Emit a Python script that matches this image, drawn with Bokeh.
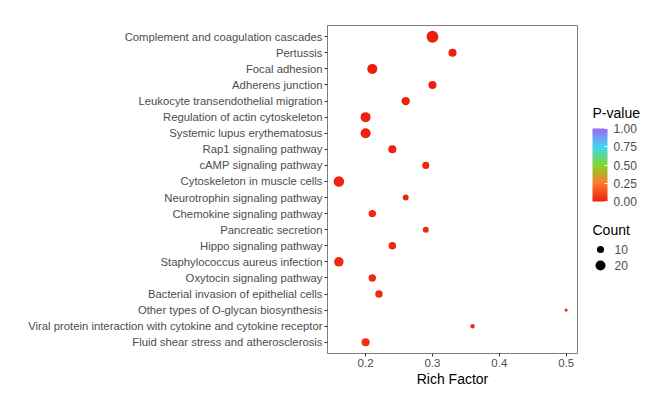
import numpy as np
from bokeh.plotting import figure
from bokeh.models import (FactorRange, Range1d, ColorBar, LinearColorMapper,
                          FixedTicker, PrintfTickFormatter, ColumnDataSource, Label)
from bokeh.layouts import row
from bokeh.core.properties import value
from bokeh.embed import file_html
from bokeh.resources import INLINE

# ---------------- data (top to bottom as displayed) ----------------
pathways = [
    "Complement and coagulation cascades",
    "Pertussis",
    "Focal adhesion",
    "Adherens junction",
    "Leukocyte transendothelial migration",
    "Regulation of actin cytoskeleton",
    "Systemic lupus erythematosus",
    "Rap1 signaling pathway",
    "cAMP signaling pathway",
    "Cytoskeleton in muscle cells",
    "Neurotrophin signaling pathway",
    "Chemokine signaling pathway",
    "Pancreatic secretion",
    "Hippo signaling pathway",
    "Staphylococcus aureus infection",
    "Oxytocin signaling pathway",
    "Bacterial invasion of epithelial cells",
    "Other types of O-glycan biosynthesis",
    "Viral protein interaction with cytokine and cytokine receptor",
    "Fluid shear stress and atherosclerosis",
]
rich_factor = [0.30, 0.33, 0.21, 0.30, 0.26, 0.20, 0.20, 0.24, 0.29, 0.16,
               0.26, 0.21, 0.29, 0.24, 0.16, 0.21, 0.22, 0.50, 0.36, 0.20]
counts = [28, 13, 20, 13, 14, 20, 20, 13, 10, 22,
          7, 11, 7, 11, 18, 11, 11, 2, 4, 13]
pvalues = [0.001, 0.004, 0.003, 0.006, 0.008, 0.010, 0.011, 0.014, 0.018, 0.020,
           0.022, 0.025, 0.027, 0.030, 0.031, 0.034, 0.036, 0.038, 0.040, 0.045]
legend_counts = [10, 20]
pvalue_ticks = [0.0, 0.25, 0.5, 0.75, 1.0]
x_ticks = [0.2, 0.3, 0.4, 0.5]

# ---------------- styles / layout ----------------
FONT = "Liberation Sans"
GREY30 = "#4D4D4D"
SIZE_K = 2.24  # marker diameter per sqrt(count)

H = 390
TOP, BOTTOM = 25, 37           # frame from y=25 to y=353
W_MAIN, W_LEG = 578, 72
FRAME_BOTTOM_Y = H - BOTTOM    # 353 in page pixels
LEG_X0 = W_MAIN                # page x where legend figure starts

stops = [(0.0, (238, 29, 12)), (0.25, (255, 122, 46)), (0.5, (127, 216, 42)),
         (0.75, (62, 215, 245)), (1.0, (158, 104, 245))]


def build_palette(n=256):
    pal = []
    for i in range(n):
        t = i / (n - 1)
        for (t0, c0), (t1, c1) in zip(stops[:-1], stops[1:]):
            if t0 <= t <= t1:
                f = (t - t0) / (t1 - t0)
                c = [round(a + (b - a) * f) for a, b in zip(c0, c1)]
                pal.append("#%02x%02x%02x" % tuple(c))
                break
    return pal


mapper = LinearColorMapper(palette=build_palette(), low=0, high=1)

src = ColumnDataSource(dict(
    pathway=pathways, rf=rich_factor, count=counts, p=pvalues,
    size=[SIZE_K * np.sqrt(c) for c in counts],
))

lo, hi = min(rich_factor), max(rich_factor)
pad = 0.05 * (hi - lo)

p = figure(width=W_MAIN, height=H,
           y_range=FactorRange(factors=pathways[::-1], range_padding=0.2,
                               range_padding_units="absolute"),
           x_range=Range1d(lo - pad, hi + pad),
           output_backend="svg", toolbar_location=None,
           min_border_left=327, min_border_right=1,
           min_border_top=TOP, min_border_bottom=BOTTOM)

p.scatter(x="rf", y="pathway", size="size", source=src,
          fill_color={"field": "p", "transform": mapper}, line_color=None)

p.xgrid.visible = False
p.ygrid.visible = False
p.outline_line_color = "#7F7F7F"
p.outline_line_width = 1
p.background_fill_color = "white"
p.border_fill_color = "white"

for ax in (p.xaxis, p.yaxis):
    ax.axis_line_color = None
    ax.major_tick_out = 3
    ax.major_tick_in = 0
    ax.major_tick_line_color = "#333333"
    ax.minor_tick_line_color = None
    ax.major_label_text_font = FONT
    ax.major_label_text_color = GREY30
    ax.major_label_standoff = 2

p.yaxis.major_label_text_font_size = "11.3px"
p.xaxis.major_label_text_font_size = "11.5px"
p.xaxis.ticker = FixedTicker(ticks=x_ticks)
p.xaxis.axis_label = "Rich Factor"
p.xaxis.axis_label_text_font = FONT
p.xaxis.axis_label_text_font_size = "14px"
p.xaxis.axis_label_text_font_style = "normal"
p.xaxis.axis_label_text_color = "black"
p.xaxis.axis_label_standoff = 1

# ---------------- legend panel (data units == page pixels) ----------------
lg = figure(width=W_LEG, height=H,
            x_range=Range1d(LEG_X0, LEG_X0 + W_LEG),
            y_range=Range1d(FRAME_BOTTOM_Y, TOP),
            output_backend="svg", toolbar_location=None,
            min_border_left=0, min_border_right=0,
            min_border_top=TOP, min_border_bottom=BOTTOM,
            x_axis_location=None, y_axis_location=None)
lg.xgrid.visible = False
lg.ygrid.visible = False
lg.outline_line_color = None
lg.border_fill_color = "white"

LEG_LEFT = 592
lg.add_layout(Label(x=LEG_LEFT, y=112, text="P-value", text_font=FONT,
                    text_font_size="14px", text_color="black", text_baseline="middle"))

BAR_BOTTOM, BAR_H = 201, 73
cb = ColorBar(color_mapper=mapper,
              location=(LEG_LEFT - LEG_X0, FRAME_BOTTOM_Y - BAR_BOTTOM),
              width=15, height=BAR_H,
              orientation="vertical", padding=0, margin=0,
              ticker=FixedTicker(ticks=pvalue_ticks),
              formatter=PrintfTickFormatter(format="%.2f"),
              major_label_text_font=FONT, major_label_text_font_size="12px",
              major_label_text_color=GREY30,
              major_tick_line_color="white", major_tick_in=3, major_tick_out=0,
              minor_tick_line_color=None, bar_line_color=None,
              background_fill_alpha=0, border_line_color=None, label_standoff=6)
lg.add_layout(cb)

lg.add_layout(Label(x=LEG_LEFT, y=229, text="Count", text_font=FONT,
                    text_font_size="14px", text_color="black", text_baseline="middle"))

leg_y = [249, 265]
lg.scatter(x=[LEG_LEFT + 8] * len(legend_counts), y=leg_y,
           size=[SIZE_K * np.sqrt(c) for c in legend_counts],
           color="black", line_color=None)
lg.text(x=[LEG_LEFT + 22] * len(legend_counts), y=leg_y,
        text=[str(c) for c in legend_counts],
        text_font=value(FONT), text_font_size="12px", text_color=GREY30,
        text_baseline="middle", text_align="left")

layout = row(p, lg)
open("out.html", "w").write(file_html(layout, INLINE))
